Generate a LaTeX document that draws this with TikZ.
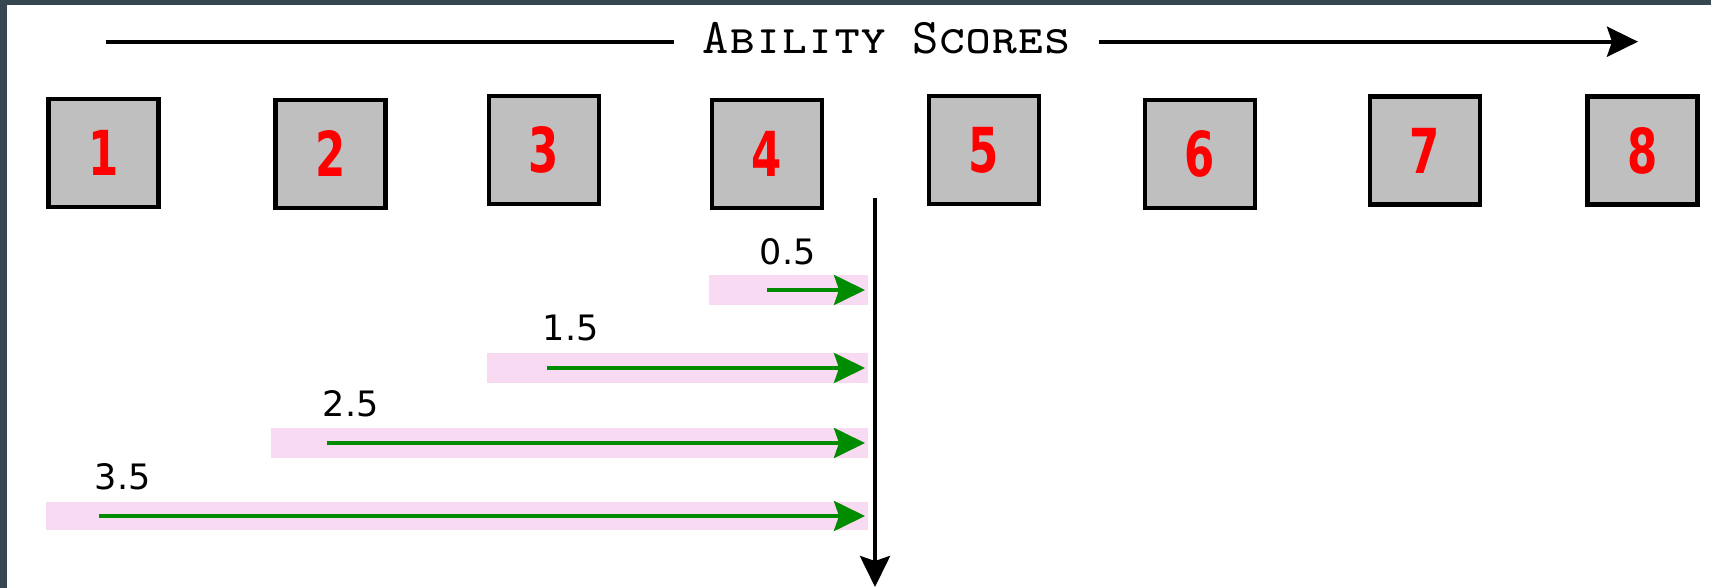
\documentclass[tikz,border=0pt]{standalone}
\usepackage{fontspec}
\usetikzlibrary{arrows.meta}

% Fonts: monospaced caps for the heading, a narrow bold sans for the scores,
% DejaVu Sans for the distance labels
\newfontfamily\capsfont{lmmonocaps10-regular.otf}
\newfontfamily\digitfont[FakeStretch=0.78]{DejaVu Sans Condensed Bold}
\newfontfamily\labelfont{DejaVu Sans}

\definecolor{framecol}{HTML}{37474F}
\definecolor{bandpink}{RGB}{248,218,242}
\definecolor{shiftgreen}{RGB}{0,140,0}
\definecolor{boxgray}{RGB}{191,191,191}

\begin{document}
\begin{tikzpicture}[
  x=0.5pt, y=-0.5pt,
  tip/.style={-{Stealth[length=15.5pt,width=15pt,inset=2.5pt]}},
  score/.style={draw=black, line width=2.2pt, fill=boxgray, inner sep=0pt,
    minimum width=55pt, minimum height=54pt, text=red,
    font=\digitfont\fontsize{31pt}{31pt}\selectfont},
  band/.style={fill=bandpink},
  gap arrow/.style={draw=shiftgreen, line width=2pt, tip},
  axis/.style={draw=black, line width=2pt},
  amount/.style={anchor=base west, inner sep=0pt,
    font=\labelfont\fontsize{17.5pt}{17.5pt}\selectfont},
  heading/.style={anchor=base, inner xsep=14pt, inner ysep=0pt,
    font=\capsfont\fontsize{25pt}{25pt}\selectfont}
]
\useasboundingbox (0,0) rectangle (1711,588);
\fill[framecol] (0,0) rectangle (1711,588);
\fill[white] (7,5) rectangle (1711,588);

% heading with its axis arrow
\node[heading] (title) at (886.5,54) {Ability Scores};
\coordinate (tl) at (106,41.7);
\coordinate (tr) at (1638,41.7);
\draw[axis] (tl) -- (tl -| title.west);
\draw[axis, tip] (tl -| title.east) -- (tr);

% the eight scores
\node[score] (b1) at (103.3,153)   {1};
\node[score] (b2) at (330.3,153.8) {2};
\node[score] (b3) at (544,150.2)   {3};
\node[score] (b4) at (767,153.8)   {4};
\node[score] (b5) at (983.7,150.2) {5};
\node[score] (b6) at (1199.7,153.8){6};
\node[score] (b7) at (1425,150.5)  {7};
\node[score] (b8) at (1642.3,150.5){8};

% distance bands
\fill[band] (709,275)   rectangle (868,305);
\fill[band] (487,353)   rectangle (868,383);
\fill[band] (271,427.5) rectangle (868,458);
\fill[band] (46,502)    rectangle (868,530);

% distance arrows from each score to the split line
\coordinate (s4) at (767,290);   \coordinate (e4) at (865,290);
\coordinate (s3) at (546.5,368); \coordinate (e3) at (865,368);
\coordinate (s2) at (327,443);   \coordinate (e2) at (865,443);
\coordinate (s1) at (99,516);    \coordinate (e1) at (865,516);
\draw[gap arrow] (s4) -- (e4);
\draw[gap arrow] (s3) -- (e3);
\draw[gap arrow] (s2) -- (e2);
\draw[gap arrow] (s1) -- (e1);

\node[amount] (l4) at (759.5,264) {0.5};
\node[amount] (l3) at (542.5,340) {1.5};
\node[amount] (l2) at (322.5,416) {2.5};
\node[amount] (l1) at (94.5,489)  {3.5};

% split line between 4 and 5
\coordinate (vtop) at (875,198);
\coordinate (vbot) at (875,587);
\draw[axis, tip] (vtop) -- (vbot);
\end{tikzpicture}
\end{document}
